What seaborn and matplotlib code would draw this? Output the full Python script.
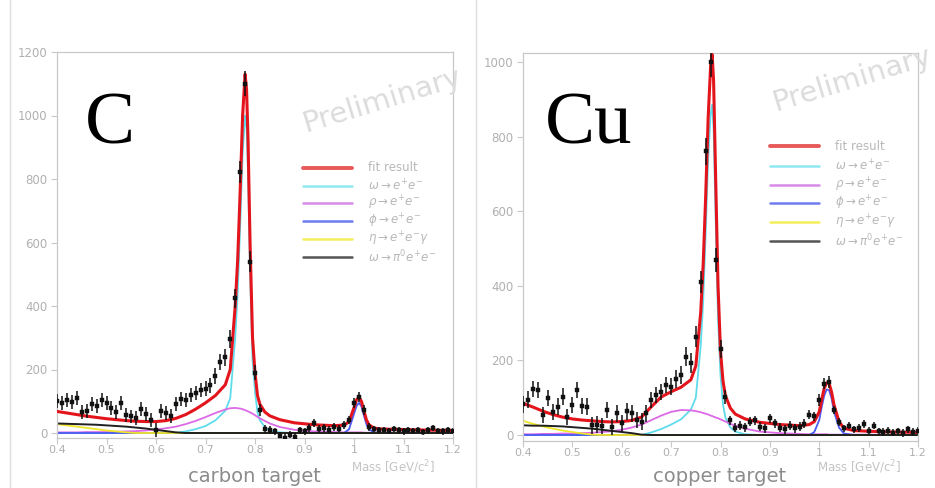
import matplotlib
matplotlib.use("Agg")
import matplotlib.pyplot as plt
from matplotlib.lines import Line2D
import pandas as pd
import seaborn as sns

# ---------------------------------------------------------------- fit curves
fit_mass = [0.40, 0.42, 0.44, 0.46, 0.48, 0.50, 0.52, 0.54, 0.56, 0.58,
            0.60, 0.62, 0.64, 0.66, 0.68, 0.70, 0.72, 0.74, 0.75, 0.76,
            0.765, 0.77, 0.775, 0.78, 0.783, 0.786, 0.79, 0.795, 0.80, 0.805,
            0.81, 0.82, 0.83, 0.85, 0.88, 0.92, 0.96, 0.98, 0.99, 1.00,
            1.005, 1.01, 1.015, 1.02, 1.025, 1.03, 1.04, 1.05, 1.07, 1.10,
            1.15, 1.20]

# carbon target
c_total = [68, 63, 58, 53, 49, 45, 42, 39, 37, 36,
           36, 39, 46, 58, 75, 95, 118, 152, 200, 400,
           545, 760, 1000, 1130, 1080, 920, 600, 300, 190, 118,
           90, 66, 54, 42, 32, 26, 23, 25, 35, 80,
           104, 113, 100, 70, 42, 26, 16, 13, 12, 11,
           9, 8]
c_omega = [0] * 12 + [0, 5, 12, 22, 40, 70, 110, 300,
                      440, 650, 880, 1000, 960, 810, 510, 230, 130, 65,
                      40, 18, 8, 2] + [0] * 18
c_rho = [2, 2, 2, 3, 3, 3, 4, 5, 6, 8,
         11, 15, 20, 28, 38, 50, 63, 74, 78, 79,
         78, 77, 75, 72, 70, 68, 65, 61, 56, 51,
         46, 38, 30, 19, 10, 5, 3, 2, 2, 2,
         2, 2, 2, 1, 1, 1, 1, 1, 1, 1,
         0, 0]
c_phi = [0] * 38 + [12, 60, 85, 95, 84, 55, 28, 12, 2, 0, 0, 0, 0, 0]
c_eta = [28, 24, 20, 16, 12, 8, 5, 2] + [0] * 44
c_dalitz = [30, 29, 28, 27, 26, 24, 22, 20, 17, 14, 10, 6, 2] + [0] * 39

# copper target
u_total = [85, 75, 64, 55, 48, 43, 40, 38, 36, 35,
           36, 39, 48, 76, 102, 116, 128, 148, 185, 330,
           460, 640, 850, 990, 1020, 950, 700, 400, 225, 145,
           105, 72, 56, 43, 34, 28, 25, 28, 36, 62,
           95, 125, 140, 138, 115, 80, 36, 18, 12, 10,
           8, 7]
u_omega = [0] * 12 + [0, 7, 16, 28, 42, 68, 100, 240,
                      360, 540, 740, 860, 885, 820, 590, 310, 160, 82,
                      46, 20, 9, 2] + [0] * 18
u_rho = [2, 2, 3, 3, 4, 4, 5, 6, 8, 10,
         14, 20, 28, 40, 52, 62, 67, 66, 64, 61,
         59, 57, 55, 52, 51, 49, 47, 45, 42, 39,
         36, 30, 25, 17, 9, 5, 3, 2, 2, 2,
         2, 2, 2, 1, 1, 1, 1, 1, 1, 1,
         0, 0]
u_phi = [0] * 38 + [8, 40, 75, 105, 122, 120, 98, 62, 20, 4, 0, 0, 0, 0]
u_eta = [38, 30, 23, 17, 12, 8, 4, 1] + [0] * 44
u_dalitz = [26, 25, 25, 24, 23, 21, 19, 17, 14, 11, 8, 5, 1] + [0] * 39

# ---------------------------------------------------------------- data points
bin_mass = [round(0.40 + 0.01 * i, 2) for i in range(81)]

c_counts = [100, 96, 104, 98, 110, 66, 70, 92, 86, 104,
            95, 78, 65, 94, 58, 52, 48, 76, 60, 40,
            8, 70, 62, 55, 92, 108, 104, 120, 126, 134,
            140, 150, 180, 224, 238, 295, 425, 822, 1100, 540,
            190, 72, 12, 10, 5, -10, -15, -5, -12, 8,
            5, 15, 31, 12, 15, 10, 18, 14, 26, 41,
            94, 113, 72, 19, 12, 8, 10, 6, 12, 8,
            5, 10, 7, 9, 4, 8, 15, 6, 5, 9,
            7]
c_err = [22] * 20 + [22] * 10 + [24, 24, 25, 26, 27, 28, 30, 36, 40, 32,
                                 24, 18] + [12] * 18 + [16, 16, 15, 12] + [10] * 17

u_counts = [82, 95, 124, 120, 54, 99, 62, 76, 103, 49,
            80, 121, 78, 76, 26, 28, 24, 67, 22, 58,
            31, 63, 58, 40, 36, 58, 94, 107, 116, 134,
            130, 150, 161, 210, 192, 263, 410, 760, 1000, 470,
            230, 102, 40, 20, 25, 21, 35, 40, 22, 18,
            45, 32, 20, 15, 25, 18, 22, 30, 54, 50,
            94, 138, 142, 67, 35, 18, 25, 15, 19, 30,
            12, 25, 10, 8, 12, 6, 10, 5, 15, 8,
            12]
u_err = [22] * 20 + [22] * 10 + [24, 24, 25, 26, 27, 28, 30, 36, 40, 32,
                                 24, 18] + [12] * 18 + [16, 16, 15, 12] + [10] * 17

legend_labels = ["fit result",
                 r"$\omega\rightarrow e^{+}e^{-}$",
                 r"$\rho\rightarrow e^{+}e^{-}$",
                 r"$\phi\rightarrow e^{+}e^{-}$",
                 r"$\eta\rightarrow e^{+}e^{-}\gamma$",
                 r"$\omega\rightarrow \pi^{0}e^{+}e^{-}$"]
x_ticks = [0.4, 0.5, 0.6, 0.7, 0.8, 0.9, 1.0, 1.1, 1.2]
x_tick_labels = ["0.4", "0.5", "0.6", "0.7", "0.8", "0.9", "1", "1.1", "1.2"]

# ---------------------------------------------------------------- styling
sns.set_style("white")
plt.rcParams["font.family"] = ["DejaVu Sans"]
plt.rcParams["mathtext.fontset"] = "dejavusans"

W, H = 935, 488
fig = plt.figure(figsize=(W / 100, H / 100), dpi=100)


def fx(px):
    return px / W


def fy(py):
    return 1 - py / H


curve_colors = ["#e3141c", "#5fdcec", "#dc6ae6", "#4a5af0", "#efe62a", "#202020"]
legend_colors = ["#e85a5a", "#8ee8f2", "#d88ae8", "#6e7cf0", "#f2ef5a", "#555555"]
curve_widths = [2.2, 1.3, 1.3, 1.3, 1.3, 1.4]
faint = "#c8c8c8"
tick_grey = "#b0b0b0"

panels = [
    dict(left=57, right=453, top=52, zero=433, ymax=1200, ymin=-15,
         yticks=[0, 200, 400, 600, 800, 1000, 1200],
         curves=[c_total, c_omega, c_rho, c_phi, c_eta, c_dalitz],
         counts=c_counts, err=c_err, big="C", big_x=110,
         target="carbon target", target_x=254, mass_x=393,
         leg_x=303, leg_y=[168, 185.5, 203, 221, 238.5, 257],
         prelim=(382, 101)),
    dict(left=523, right=918, top=53, zero=435, ymax=1024, ymin=-15,
         yticks=[0, 200, 400, 600, 800, 1000],
         curves=[u_total, u_omega, u_rho, u_phi, u_eta, u_dalitz],
         counts=u_counts, err=u_err, big="Cu", big_x=589,
         target="copper target", target_x=720, mass_x=859,
         leg_x=770, leg_y=[146, 165.5, 184.5, 203, 222, 241.5],
         prelim=(852, 80)),
]

for p in panels:
    scale = (p["zero"] - p["top"]) / p["ymax"]
    bottom_px = p["zero"] - p["ymin"] * scale
    ax = fig.add_axes([fx(p["left"]), fy(bottom_px),
                       (p["right"] - p["left"]) / W, (bottom_px - p["top"]) / H])
    ax.set_facecolor("white")

    # model components first, total fit above them
    order = [1, 2, 3, 4, 5, 0]
    for k in order:
        df = pd.DataFrame({"mass": fit_mass, "counts": p["curves"][k]})
        sns.lineplot(data=df, x="mass", y="counts", ax=ax, color=curve_colors[k],
                     linewidth=curve_widths[k], sort=False, estimator=None,
                     legend=False, zorder=3 if k == 0 else 2)

    # measured spectrum with error bars
    pts = pd.DataFrame({"mass": bin_mass, "counts": p["counts"], "err": p["err"]})
    ax.errorbar(pts["mass"], pts["counts"], yerr=pts["err"], fmt="none",
                ecolor="#111111", elinewidth=1.1, capsize=0, zorder=4)
    sns.scatterplot(data=pts, x="mass", y="counts", ax=ax, marker="s", s=9,
                    color="#111111", edgecolor="#111111", linewidth=0.3,
                    zorder=5, legend=False)

    ax.set_xlim(0.4, 1.2)
    ax.set_ylim(p["ymin"], p["ymax"])
    ax.set_xticks(x_ticks)
    ax.set_xticklabels(x_tick_labels)
    ax.set_yticks(p["yticks"])
    ax.set_yticklabels([str(t) for t in p["yticks"]])
    ax.tick_params(axis="both", which="major", direction="out", length=4,
                   width=0.8, color=faint, labelcolor=tick_grey, labelsize=8.5,
                   pad=3, bottom=True, left=True)
    ax.tick_params(axis="x", pad=1, labelsize=8)
    ax.set_xlabel("")
    ax.set_ylabel("")
    for s in ax.spines.values():
        s.set_color(faint)
        s.set_linewidth(0.9)

    # large target label
    fig.text(fx(p["big_x"]), fy(126), p["big"], ha="center", va="center",
             fontsize=54, family=["Liberation Serif"], color="black")

    # watermark
    fig.text(fx(p["prelim"][0]), fy(p["prelim"][1]), "Preliminary",
             ha="center", va="center", rotation=17, fontsize=21,
             color="#dcdcdc", zorder=0)

    # legend
    for i, lab in enumerate(legend_labels):
        yy = fy(p["leg_y"][i])
        fig.add_artist(Line2D([fx(p["leg_x"]), fx(p["leg_x"] + 49)], [yy, yy],
                              transform=fig.transFigure, color=legend_colors[i],
                              linewidth=2.8 if i == 0 else 1.8))
        fig.text(fx(p["leg_x"] + 65), yy, lab, ha="left", va="center",
                 fontsize=8.5, color="#b8b8b8")

    # axis captions
    fig.text(fx(p["target_x"]), fy(477), p["target"], ha="center", va="center",
             fontsize=14, color="#8c8c8c")
    fig.text(fx(p["mass_x"]), fy(467), r"Mass [GeV/c$^{2}$]", ha="center",
             va="center", fontsize=8.5, color="#c4c4c4")

# page separators
for xp in (10, 476):
    fig.add_artist(Line2D([fx(xp), fx(xp)], [0, 1], transform=fig.transFigure,
                          color="#dedede", linewidth=1.0))

fig.savefig("out.png", dpi=100, facecolor="white")
